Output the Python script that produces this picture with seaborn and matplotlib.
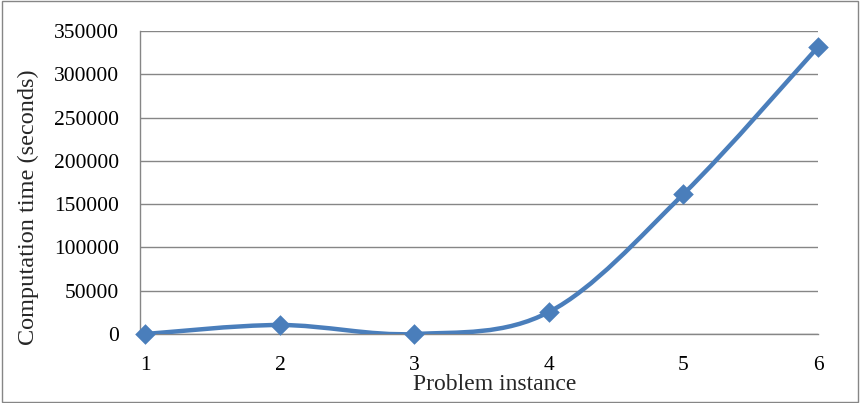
import numpy as np
import matplotlib
matplotlib.use("Agg")
import matplotlib.pyplot as plt
from matplotlib.path import Path
from matplotlib.patches import PathPatch, Rectangle
import seaborn as sns

# data
instances = [1, 2, 3, 4, 5, 6]
comp_time = [0, 10400, 0, 25400, 161700, 331500]
yticks = [0, 50000, 100000, 150000, 200000, 250000, 300000, 350000]

sns.set_style("white")
plt.rcParams["font.family"] = ["Liberation Serif", "DejaVu Serif"]

blue = "#4A7EBB"
grey = "#868686"

fig = plt.figure(figsize=(8.6, 4.03), dpi=100)
ax = fig.add_axes([140 / 860, 1 - 334 / 403, 678 / 860, 303 / 403])

# smoothed line (Excel-style bezier through the points)
x = np.array(instances, dtype=float)
y = np.array(comp_time, dtype=float)
verts = [(x[0], y[0])]
codes = [Path.MOVETO]
for i in range(len(x) - 1):
    p0 = (x[i - 1], y[i - 1]) if i > 0 else (x[i], y[i])
    p3 = (x[i + 2], y[i + 2]) if i + 2 < len(x) else (x[i + 1], y[i + 1])
    c1 = (x[i] + (x[i + 1] - p0[0]) / 6, y[i] + (y[i + 1] - p0[1]) / 6)
    c2 = (x[i + 1] - (p3[0] - x[i]) / 6, y[i + 1] - (p3[1] - y[i]) / 6)
    verts += [c1, c2, (x[i + 1], y[i + 1])]
    codes += [Path.CURVE4] * 3
ax.add_patch(PathPatch(Path(verts, codes), fill=False, edgecolor=blue,
                       lw=3.2, capstyle="round", joinstyle="round", zorder=3))

sns.scatterplot(x=instances, y=comp_time, marker="D", s=110, color=blue,
                edgecolor=blue, linewidth=0, ax=ax, zorder=4, clip_on=False)

ax.set_xlim(0.96, 6.0)
ax.set_ylim(0, 350000)
ax.set_yticks(yticks)
ax.set_yticklabels([str(v) for v in yticks])
ax.set_xticks(instances)
ax.set_xticklabels([str(v) for v in instances])

ax.grid(axis="y", color=grey, lw=1)
ax.set_axisbelow(True)
for s in ["top", "right"]:
    ax.spines[s].set_visible(False)
for s in ["left", "bottom"]:
    ax.spines[s].set_color(grey)
    ax.spines[s].set_linewidth(1)

ax.tick_params(axis="both", direction="out", length=5, width=1, color=grey,
               labelsize=15.5, labelcolor="black")
ax.tick_params(axis="x", pad=11)
ax.tick_params(axis="y", pad=10)

fig.text(28 / 860, 1 - 207 / 403, "Computation time (seconds)", fontsize=17.5,
         rotation=90, ha="center", va="center")
fig.text(495 / 860, 1 - 385 / 403, "Problem instance", fontsize=17,
         ha="center", va="center")

fig.patches.append(Rectangle((0.002, 0.003), 0.996, 0.994, transform=fig.transFigure,
                             fill=False, edgecolor=grey, lw=1))

fig.savefig("out.png", dpi=100)
